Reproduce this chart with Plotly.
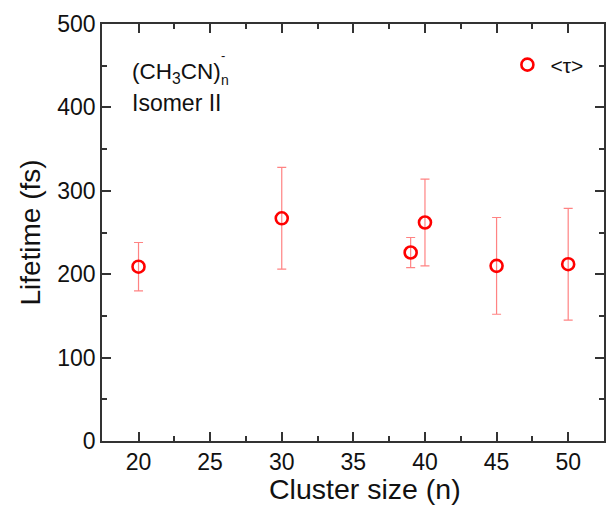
import plotly.graph_objects as go

cluster_size = [20, 30, 39, 40, 45, 50]
lifetime = [209, 267, 226, 262, 210, 212]
lifetime_err = [29, 61, 18, 52, 58, 67]

FONT = "Liberation Sans, Arial, sans-serif"
L, R, T, B = 102, 0, 24, 65
W, H = 606, 506
PW, PH = W - L - R, H - T - B

def px(x):
    return (x - L) / PW

def py(y):
    return (H - B - y) / PH

fig = go.Figure()
fig.add_trace(go.Scatter(
    x=cluster_size, y=lifetime, mode="markers", name="&lt;τ&gt;",
    marker=dict(symbol="circle-open", size=12, color="#ff0000", line=dict(width=2.6, color="#ff0000")),
    error_y=dict(type="data", array=lifetime_err, visible=True, color="rgba(255,90,90,0.75)", thickness=1.2, width=4.5),
))

axis_common = dict(
    showline=True, linecolor="#333333", linewidth=1.5, mirror="ticks",
    ticks="inside", ticklen=9, tickwidth=1.5, tickcolor="#333333",
    showgrid=False, zeroline=False,
    tickfont=dict(family=FONT, size=23, color="#111111"),
)

fig.update_xaxes(range=[17.45, 52.5], dtick=5, tick0=0,
                 minor=dict(dtick=2.5, ticks="inside", ticklen=5, tickwidth=1.5, tickcolor="#333333"),
                 **axis_common)
fig.update_yaxes(range=[0, 500], dtick=100, tick0=0,
                 minor=dict(dtick=50, ticks="inside", ticklen=5, tickwidth=1.5, tickcolor="#333333"),
                 title=dict(text="Lifetime (fs)", font=dict(family=FONT, size=28, color="#111111"), standoff=8),
                 **axis_common)

# x-axis title (centred as in the reference, whose frame extends past the crop)
fig.add_annotation(xref="paper", yref="paper", x=px(366), y=py(489), xanchor="center", yanchor="middle",
                   text="Cluster size (n)", showarrow=False,
                   font=dict(family=FONT, size=28.5, color="#111111"))

ann_font = dict(family=FONT, size=22.5, color="#111111")
fig.add_annotation(xref="paper", yref="paper", x=px(130), y=py(57), xanchor="left", yanchor="top",
                   text="(CH<sub>3</sub>CN)", showarrow=False, font=ann_font)
fig.add_annotation(xref="paper", yref="paper", x=px(219), y=py(56), xanchor="left", yanchor="middle",
                   text="-", showarrow=False, font=dict(family=FONT, size=13, color="#111111"))
fig.add_annotation(xref="paper", yref="paper", x=px(219), y=py(80), xanchor="left", yanchor="middle",
                   text="n", showarrow=False, font=dict(family=FONT, size=14, color="#111111"))
fig.add_annotation(xref="paper", yref="paper", x=px(130), y=py(103), xanchor="left", yanchor="middle",
                   text="Isomer II", showarrow=False, font=dict(family=FONT, size=23, color="#111111"))

fig.update_layout(
    width=W, height=H, margin=dict(l=L, r=R, t=T, b=B),
    paper_bgcolor="white", plot_bgcolor="white",
    showlegend=True,
    legend=dict(x=px(506), y=py(65), xanchor="left", yanchor="middle", itemwidth=36,
                font=dict(family=FONT, size=21, color="#111111"), bgcolor="rgba(0,0,0,0)"),
)

fig.write_html("out.html")
